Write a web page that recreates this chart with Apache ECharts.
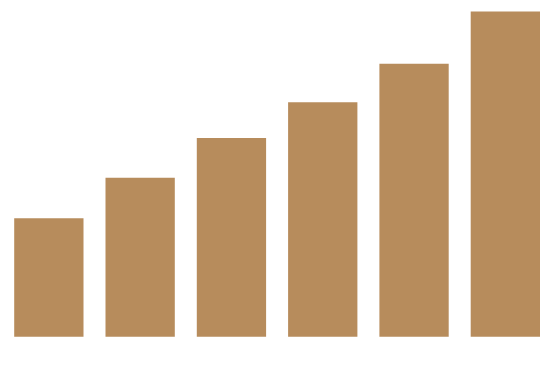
<!DOCTYPE html>
<html>
<head>
<meta charset="utf-8">
<script src="https://cdn.jsdelivr.net/npm/echarts@6/dist/echarts.min.js"></script>
<style>html,body{margin:0;padding:0;background:#fff}#c{width:551px;height:384px}</style>
</head>
<body>
<div id="c"></div>
<script>
var categories = ['A', 'B', 'C', 'D', 'E', 'F'];
var values = [35.2, 47.2, 59.0, 69.6, 81.1, 96.6];
var chart = echarts.init(document.getElementById('c'), null, {renderer: 'canvas'});
chart.setOption({
  animation: false,
  backgroundColor: '#ffffff',
  grid: {left: 3.2, top: 0, width: 549.8, height: 336.7},
  xAxis: {type: 'category', data: categories, show: false},
  yAxis: {type: 'value', min: 0, max: 100, show: false},
  series: [{
    type: 'bar',
    data: values,
    barWidth: 69.3,
    itemStyle: {color: '#b78c5c'}
  }]
});
</script>
</body>
</html>
